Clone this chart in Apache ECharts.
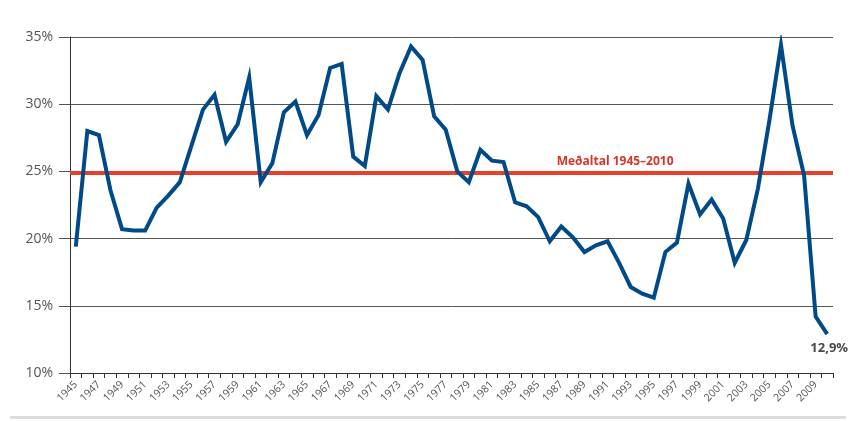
<!DOCTYPE html>
<html>
<head>
<meta charset="utf-8">
<script src="https://cdn.jsdelivr.net/npm/echarts@6/dist/echarts.min.js"></script>
<style>
    html, body { margin: 0; padding: 0; background: #fff; }
    #chart { width: 855px; height: 421px; }
</style>
</head>
<body>
<div id="chart"></div>
<script>
// ár
var years = ['1945', '1946', '1947', '1948', '1949', '1950', '1951', '1952', '1953', '1954',
    '1955', '1956', '1957', '1958', '1959', '1960', '1961', '1962', '1963', '1964',
    '1965', '1966', '1967', '1968', '1969', '1970', '1971', '1972', '1973', '1974',
    '1975', '1976', '1977', '1978', '1979', '1980', '1981', '1982', '1983', '1984',
    '1985', '1986', '1987', '1988', '1989', '1990', '1991', '1992', '1993', '1994',
    '1995', '1996', '1997', '1998', '1999', '2000', '2001', '2002', '2003', '2004',
    '2005', '2006', '2007', '2008', '2009', '2010'];

// hlutfall (%)
var values = [19.4, 28.0, 27.7, 23.6, 20.7, 20.6, 20.6, 22.3, 23.2, 24.2,
    26.9, 29.6, 30.7, 27.2, 28.5, 32.0, 24.2, 25.6, 29.4, 30.2,
    27.7, 29.2, 32.7, 33.0, 26.1, 25.4, 30.6, 29.6, 32.3, 34.3,
    33.3, 29.1, 28.1, 25.0, 24.2, 26.6, 25.8, 25.7, 22.7, 22.4,
    21.6, 19.8, 20.9, 20.1, 19.0, 19.5, 19.8, 18.2, 16.4, 15.9,
    15.6, 19.0, 19.7, 24.1, 21.8, 22.9, 21.5, 18.2, 19.9, 23.7,
    28.8, 34.4, 28.4, 24.7, 14.2, 12.9];

var average = 24.9;
var averageLabel = 'Meðaltal 1945–2010';
var lastLabel = '12,9%';

var chart = echarts.init(document.getElementById('chart'));

chart.setOption({
    animation: false,
    grid: {
        left: 70,
        right: 22,
        top: 37,
        bottom: 48
    },
    xAxis: {
        type: 'category',
        data: years,
        boundaryGap: true,
        axisLine: { lineStyle: { color: '#333', width: 1 } },
        axisTick: { show: true, interval: 0, length: 5, lineStyle: { color: '#333' } },
        axisLabel: {
            interval: 1,
            rotate: 45,
            fontSize: 10.5,
            color: '#555',
            fontFamily: 'Open Sans',
            margin: 10
        },
        splitLine: { show: false }
    },
    yAxis: {
        type: 'value',
        min: 10,
        max: 35,
        interval: 5,
        axisLine: { show: true, lineStyle: { color: '#333', width: 1 } },
        axisTick: { show: true, length: 11, lineStyle: { color: '#555' } },
        axisLabel: {
            formatter: '{value}%',
            fontSize: 14,
            color: '#555',
            fontFamily: 'Open Sans',
            margin: 17
        },
        splitLine: { show: true, lineStyle: { color: '#555', width: 1 } }
    },
    series: [{
        type: 'line',
        data: values,
        symbol: 'none',
        z: 3,
        lineStyle: { color: '#004a87', width: 4, join: 'miter' },
        markLine: {
            silent: true,
            symbol: 'none',
            z: 2,
            label: { show: false },
            lineStyle: { color: '#e8402b', width: 4, type: 'solid' },
            data: [{ yAxis: average }]
        },
        markPoint: {
            silent: true,
            symbol: 'circle',
            symbolSize: 0,
            data: [{
                coord: ['1992', average],
                label: {
                    show: true,
                    position: 'top',
                    distance: 5,
                    offset: [-4, 0],
                    formatter: averageLabel,
                    color: '#d9332a',
                    fontWeight: 'bold',
                    fontSize: 12,
                    fontFamily: 'Open Sans'
                }
            }, {
                coord: ['2010', values[values.length - 1]],
                label: {
                    show: true,
                    position: 'bottom',
                    distance: 8,
                    offset: [2, 0],
                    formatter: lastLabel,
                    color: '#4a4a4a',
                    fontWeight: 'bold',
                    fontSize: 13,
                    fontFamily: 'Open Sans'
                }
            }]
        }
    }],
    graphic: [{
        type: 'rect',
        shape: { x: 10, y: 416, width: 836, height: 3 },
        style: { fill: '#dddddd' }
    }]
});
</script>
</body>
</html>
